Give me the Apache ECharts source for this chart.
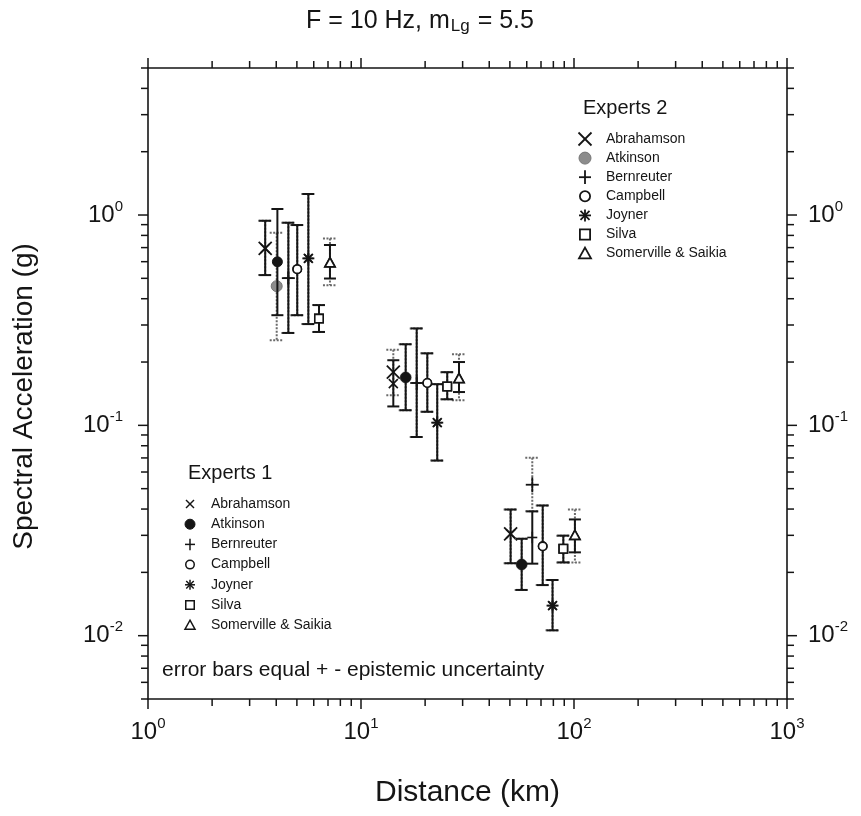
<!DOCTYPE html>
<html><head><meta charset="utf-8">
<script src="https://cdn.jsdelivr.net/npm/echarts@6/dist/echarts.min.js"></script>
<style>html,body{margin:0;padding:0;background:#fff}#c{width:861px;height:816px}</style>
</head><body><div id="c"></div>
<script>
// ---------------- data ----------------
const experts = ['Abrahamson','Atkinson','Bernreuter','Campbell','Joyner','Silva','Somerville & Saikia'];
const markerKinds = ['x','dot','plus','circle','star','square','triangle'];

// Experts 1 (three distance groups x seven experts)
const e1Distance = [3.55, 4.05, 4.56, 5.02, 5.66, 6.35, 7.15,
                    14.18, 16.21, 18.26, 20.48, 22.8, 25.4, 28.84,
                    50.4, 56.8, 63.7, 71.3, 79.3, 89.1, 101];
const e1Median   = [0.694, 0.599, 0.501, 0.553, 0.622, 0.322, 0.593,
                    0.158, 0.169, 0.159, 0.159, 0.103, 0.153, 0.167,
                    0.0305, 0.0218, 0.0293, 0.0266, 0.0139, 0.0259, 0.030];
const e1Lower    = [0.518, 0.334, 0.275, 0.334, 0.303, 0.278, 0.499,
                    0.123, 0.118, 0.088, 0.116, 0.068, 0.133, 0.144,
                    0.0221, 0.0165, 0.022, 0.0174, 0.0106, 0.0223, 0.0249];
const e1Upper    = [0.939, 1.068, 0.919, 0.896, 1.259, 0.373, 0.72,
                    0.204, 0.243, 0.289, 0.22, 0.157, 0.179, 0.2,
                    0.0398, 0.0289, 0.039, 0.0416, 0.0184, 0.0299, 0.0357];

// Experts 2
const e2Distance = [3.55, 4.02, 4.56, 5.02, 5.66, 6.35, 7.15,
                    14.18, 16.21, 18.26, 20.48, 22.8, 25.4, 28.84,
                    50.4, 56.8, 63.7, 71.3, 79.3, 89.1, 101];
const e2Median   = [0.694, 0.459, 0.501, 0.553, 0.622, 0.322, 0.593,
                    0.179, 0.169, 0.159, 0.159, 0.103, 0.153, 0.167,
                    0.0305, 0.0218, 0.0522, 0.0266, 0.0139, 0.0259, 0.030];
const e2Lower    = [0.518, 0.254, 0.275, 0.334, 0.303, 0.278, 0.464,
                    0.139, 0.118, 0.088, 0.116, 0.068, 0.133, 0.1315,
                    0.0221, 0.0165, 0.039, 0.0174, 0.0106, 0.0223, 0.0223];
const e2Upper    = [0.939, 0.823, 0.919, 0.896, 1.259, 0.373, 0.774,
                    0.229, 0.243, 0.289, 0.22, 0.157, 0.179, 0.218,
                    0.0398, 0.0289, 0.0702, 0.0416, 0.0184, 0.0299, 0.0398];

const xMajor = [1, 10, 100, 1000];
const yMajor = [0.01, 0.1, 1];
const minorMult = [2, 3, 4, 5, 6, 7, 8, 9];
const xRange = [1, 1000];
const yRange = [0.005, 5];

const titleText = 'F = 10 Hz, m{sub|Lg} = 5.5';
const xName = 'Distance (km)';
const yName = 'Spectral Acceleration (g)';
const noteText = 'error bars equal + - epistemic uncertainty';

// ---------------- helpers ----------------
const FONT = '"Liberation Sans", Arial, Helvetica, sans-serif';
const INK = '#151515';

function ln(x1, y1, x2, y2, color, lw, dash) {
  return {type: 'line', shape: {x1, y1, x2, y2},
          style: {stroke: color, lineWidth: lw, lineDash: dash || null}};
}
function markerEls(kind, cx, cy, s, color, lw, fill) {
  const h = s / 2;
  switch (kind) {
    case 'x': return [ln(cx-h, cy-h, cx+h, cy+h, color, lw), ln(cx-h, cy+h, cx+h, cy-h, color, lw)];
    case 'dot': return [{type: 'circle', shape: {cx, cy, r: h}, style: {fill: fill, stroke: color, lineWidth: 1}}];
    case 'plus': return [ln(cx-h, cy, cx+h, cy, color, lw), ln(cx, cy-h*1.15, cx, cy+h*1.15, color, lw)];
    case 'circle': return [{type: 'circle', shape: {cx, cy, r: h - lw/2}, style: {fill: '#fff', stroke: color, lineWidth: lw}}];
    case 'star': {
      const d = h * 0.75;
      return [ln(cx-h, cy, cx+h, cy, color, lw), ln(cx, cy-h, cx, cy+h, color, lw),
              ln(cx-d, cy-d, cx+d, cy+d, color, lw), ln(cx-d, cy+d, cx+d, cy-d, color, lw)];
    }
    case 'square': return [{type: 'rect', shape: {x: cx-h+lw/2, y: cy-h+lw/2, width: s-lw, height: s-lw},
                            style: {fill: '#fff', stroke: color, lineWidth: lw}}];
    case 'triangle': return [{type: 'polygon', shape: {points: [[cx, cy-h], [cx+h, cy+h*0.8], [cx-h, cy+h*0.8]]},
                              style: {fill: '#fff', stroke: color, lineWidth: lw}}];
  }
  return [];
}

const setStyle = [
  { // Experts 1
    bar: INK, barDash: null, cap: 6, lw: 2,
    size: {x: 9, dot: 10, plus: 10, circle: 10, star: 10, square: 10, triangle: 10},
    dotFill: INK, dotStroke: INK, mlw: 1.6
  },
  { // Experts 2
    bar: '#6a6a6a', barDash: [2, 1.5], cap: 7, lw: 2,
    size: {x: 13, dot: 11, plus: 13, circle: 10, star: 12, square: 10, triangle: 10},
    dotFill: '#8c8c8c', dotStroke: '#777', mlw: 1.8
  }
];

function makeRender(si) {
  const st = setStyle[si];
  return function (params, api) {
    const d = api.value(0), m = api.value(1), lo = api.value(2), hi = api.value(3), k = api.value(4);
    const c = api.coord([d, m]);
    const t = api.coord([d, hi]);
    const b = api.coord([d, lo]);
    const kind = markerKinds[k];
    const children = [
      ln(c[0], t[1], c[0], b[1], st.bar, st.lw, st.barDash),
      ln(c[0]-st.cap, t[1], c[0]+st.cap, t[1], st.bar, st.lw, st.barDash),
      ln(c[0]-st.cap, b[1], c[0]+st.cap, b[1], st.bar, st.lw, st.barDash)
    ];
    const col = kind === 'dot' ? st.dotStroke : INK;
    markerEls(kind, c[0], c[1], st.size[kind], col, st.mlw, st.dotFill).forEach(e => children.push(e));
    return {type: 'group', children};
  };
}

function buildData(dist, med, lo, hi) {
  return dist.map((d, i) => [d, med[i], lo[i], hi[i], i % experts.length]);
}

// tick lists (major + minor at 2..9 per decade)
function tickList(majors) {
  const out = [];
  majors.forEach((v, i) => {
    out.push([v, 1]);
    if (i < majors.length - 1) minorMult.forEach(mm => out.push([v * mm, 0]));
  });
  return out;
}
const xTicks = tickList(xMajor).map(t => [t[0], 1, t[1]]);
const yTickVals = tickList([0.001].concat(yMajor).concat([10]))
  .filter(t => t[0] >= yRange[0] - 1e-12 && t[0] <= yRange[1] + 1e-9);
const yTicks = yTickVals.map(t => [1, t[0], t[1]]);

function renderXTick(params, api) {
  const v = api.value(0), major = api.value(2);
  const cs = params.coordSys;
  const px = api.coord([v, 1])[0];
  const len = major ? 10 : 7;
  const bot = cs.y + cs.height, top = cs.y;
  return {type: 'group', children: [
    ln(px, bot, px, bot + len, INK, 1.5), ln(px, top, px, top - len, INK, 1.5)]};
}
function renderYTick(params, api) {
  const v = api.value(1), major = api.value(2);
  const cs = params.coordSys;
  const py = api.coord([1, v])[1];
  const len = major ? 10 : 7;
  const l = cs.x, r = cs.x + cs.width;
  return {type: 'group', children: [
    ln(l, py, l - len, py, INK, 1.5), ln(r, py, r + len, py, INK, 1.5)]};
}

function powLabel(v) {
  const lg = Math.log10(v);
  const e = Math.round(lg);
  if (Math.abs(lg - e) > 1e-6) return '';
  return '{b|10}{s|' + e + '}';
}
const labelRich = {
  b: {fontSize: 24, fontFamily: FONT, color: INK, lineHeight: 32},
  s: {fontSize: 15, fontFamily: FONT, color: INK, verticalAlign: 'top', lineHeight: 16}
};

// ---------------- legends (graphic) ----------------
function legendGroup(title, x0, yTitle, y0, step, si) {
  const st = setStyle[si];
  const els = [{
    type: 'text', x: x0, y: yTitle,
    style: {text: title, font: '20px ' + FONT, fill: INK, align: 'left', verticalAlign: 'middle'}
  }];
  experts.forEach((name, i) => {
    const cy = y0 + i * step;
    const kind = markerKinds[i];
    const mk = markerEls(kind, x0 + 2, cy, si === 0 ? (kind === 'x' ? 8 : 10) : (kind === 'x' ? 13 : 12),
      kind === 'dot' ? st.dotStroke : INK, si === 0 ? 1.5 : 1.8, st.dotFill);
    mk.forEach(e => els.push(e));
    els.push({type: 'text', x: x0 + 23, y: cy,
      style: {text: name, font: '14px ' + FONT, fill: INK, align: 'left', verticalAlign: 'middle'}});
  });
  return els;
}

const graphics = []
  .concat(legendGroup('Experts 1', 188, 473, 504, 20.2, 0))
  .concat(legendGroup('Experts 2', 583, 108, 139, 19.1, 1))
  .concat([
    {type: 'text', x: 162, y: 670,
     style: {text: noteText, font: '21px ' + FONT, fill: INK, align: 'left', verticalAlign: 'middle'}},
    {type: 'text', x: 420, y: 21,
     style: {text: titleText, font: '25px ' + FONT, fill: INK, align: 'center', verticalAlign: 'middle',
             rich: {sub: {fontSize: 17, fontFamily: FONT, fill: INK, verticalAlign: 'bottom', padding: [10, 1, 0, 1]}}}}
  ]);

// ---------------- chart ----------------
const chart = echarts.init(document.getElementById('c'), null, {renderer: 'canvas'});
const axisLine = {show: true, lineStyle: {color: INK, width: 1.6}};
chart.setOption({
  backgroundColor: '#fff',
  animation: false,
  grid: {left: 148, right: 74, top: 68, bottom: 117, containLabel: false, outerBoundsMode: 'none'},
  xAxis: [
    {type: 'log', logBase: 10, min: xRange[0], max: xRange[1], position: 'bottom',
     axisLine, axisTick: {show: false}, splitLine: {show: false},
     axisLabel: {formatter: powLabel, rich: labelRich, margin: 17},
     name: xName, nameLocation: 'middle', nameGap: 79,
     nameTextStyle: {fontSize: 30, fontFamily: FONT, color: INK}},
    {type: 'log', logBase: 10, min: xRange[0], max: xRange[1], position: 'top',
     axisLine, axisTick: {show: false}, splitLine: {show: false}, axisLabel: {show: false}}
  ],
  yAxis: [
    {type: 'log', logBase: 10, min: yRange[0], max: yRange[1], position: 'left',
     axisLine, axisTick: {show: false}, splitLine: {show: false},
     axisLabel: {formatter: powLabel, rich: labelRich, margin: 25},
     name: yName, nameLocation: 'middle', nameGap: 110, nameRotate: 90,
     nameTextStyle: {fontSize: 28, fontFamily: FONT, color: INK, padding: [0, 26, 0, 0]}},
    {type: 'log', logBase: 10, min: yRange[0], max: yRange[1], position: 'right',
     axisLine, axisTick: {show: false}, splitLine: {show: false},
     axisLabel: {formatter: powLabel, rich: labelRich, margin: 21}}
  ],
  series: [
    {type: 'custom', name: 'xticks', renderItem: renderXTick, data: xTicks, encode: {x: 0, y: 1}, silent: true, clip: false, z: 1},
    {type: 'custom', name: 'yticks', renderItem: renderYTick, data: yTicks, encode: {x: 0, y: 1}, silent: true, clip: false, z: 1},
    {type: 'custom', name: 'Experts 2', renderItem: makeRender(1),
     data: buildData(e2Distance, e2Median, e2Lower, e2Upper), encode: {x: 0, y: 1}, z: 2},
    {type: 'custom', name: 'Experts 1', renderItem: makeRender(0),
     data: buildData(e1Distance, e1Median, e1Lower, e1Upper), encode: {x: 0, y: 1}, z: 3}
  ],
  graphic: {elements: graphics}
});
</script>
</body></html>
